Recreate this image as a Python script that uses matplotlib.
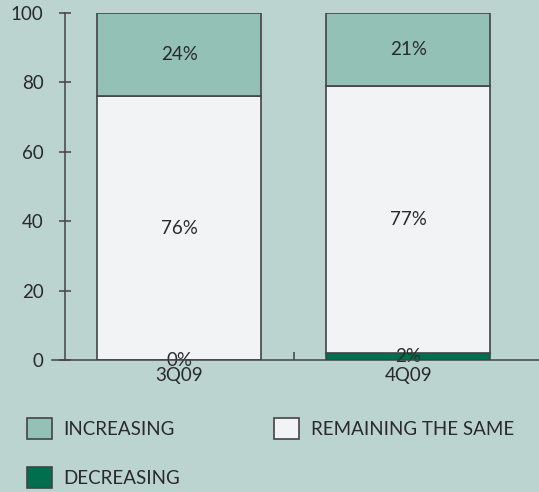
import matplotlib.pyplot as plt
import numpy as np

quarters = ["3Q09", "4Q09"]
decreasing = [0, 2]
remaining = [76, 77]
increasing = [24, 21]
series_names = ["INCREASING", "REMAINING THE SAME", "DECREASING"]
y_ticks = [0, 20, 40, 60, 80, 100]

bg = "#BBD4D0"
col_inc = "#93C1B5"
col_same = "#F2F3F5"
col_dec = "#006F4E"
edge = "#444444"
txt = "#2a2a2a"
fs = 13.5

plt.rcParams["font.family"] = ["Lato", "DejaVu Sans"]

fig = plt.figure(figsize=(5.39, 4.92), dpi=100, facecolor=bg)
ax = fig.add_axes([65 / 539, 1 - 360 / 492, 1 - 65 / 539, 347 / 492])
ax.set_facecolor(bg)

x = np.arange(len(quarters))
w = 0.716
dec = np.array(decreasing)
same = np.array(remaining)
inc = np.array(increasing)

b_dec = ax.bar(x, dec, w, color=col_dec, edgecolor=edge, linewidth=1.2)
b_same = ax.bar(x, same, w, bottom=dec, color=col_same, edgecolor=edge, linewidth=1.2)
b_inc = ax.bar(x, inc, w, bottom=dec + same, color=col_inc, edgecolor=edge, linewidth=1.2)

for i in range(len(quarters)):
    ax.text(x[i], dec[i] / 2, f"{dec[i]}%", ha="center", va="center", fontsize=fs, color=txt)
    ax.text(x[i], dec[i] + same[i] / 2, f"{same[i]}%", ha="center", va="center", fontsize=fs, color=txt)
    ax.text(x[i], dec[i] + same[i] + inc[i] / 2, f"{inc[i]}%", ha="center", va="center", fontsize=fs, color=txt)

ax.set_xlim(-0.5, 1.572)
ax.set_ylim(0, 100)
ax.set_yticks(y_ticks)
ax.tick_params(axis="y", direction="inout", length=9, width=1.1, color=edge,
               labelsize=fs, labelcolor=txt, pad=11)
ax.set_xticks(x)
ax.set_xticklabels(quarters)
ax.tick_params(axis="x", length=0, labelsize=fs, labelcolor=txt, pad=5)
ax.set_xticks([0.5], minor=True)
ax.tick_params(axis="x", which="minor", direction="in", length=6, width=1.1, color=edge)

for s in ["top", "right"]:
    ax.spines[s].set_visible(False)
ax.spines["left"].set_color(edge)
ax.spines["left"].set_linewidth(1.1)
ax.spines["bottom"].set_visible(False)
ax.plot([-0.555, 1.572], [0, 0], color=edge, lw=1.1, clip_on=False, zorder=5)

handles = [b_inc, b_dec, b_same]
labels = [series_names[0], series_names[2], series_names[1]]
leg = fig.legend(handles, labels, ncol=2, loc="upper left",
                 bbox_to_anchor=(27 / 539, 1 - 418 / 492), frameon=False,
                 fontsize=fs, handlelength=1.35, handleheight=1.35,
                 labelspacing=1.5, columnspacing=5.0, handletextpad=0.6,
                 borderpad=0, borderaxespad=0)
for t in leg.get_texts():
    t.set_color(txt)

fig.savefig("out.png", dpi=100, facecolor=bg)
